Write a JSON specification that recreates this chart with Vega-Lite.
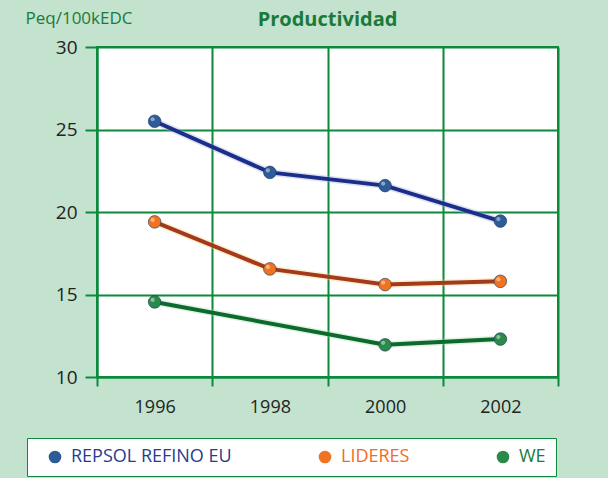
{
  "$schema": "https://vega.github.io/schema/vega-lite/v6.json",
  "width": 461,
  "height": 330,
  "autosize": {"type": "none"},
  "padding": {"left": 97, "top": 47, "right": 50, "bottom": 101},
  "background": "#c3e3cf",
  "config": {
    "font": "Open Sans",
    "view": {"fill": "white", "stroke": "#0b8a3c", "strokeWidth": 2}
  },
  "title": {
    "text": "Productividad",
    "fontSize": 20,
    "fontWeight": "bold",
    "color": "#1a7a3a",
    "anchor": "middle",
    "offset": 0,
    "dy": 21
  },
  "data": {
    "values": [
      {"year": "1996", "series": "REPSOL REFINO EU", "value": 25.5},
      {"year": "1998", "series": "REPSOL REFINO EU", "value": 22.4},
      {"year": "2000", "series": "REPSOL REFINO EU", "value": 21.6},
      {"year": "2002", "series": "REPSOL REFINO EU", "value": 19.45},
      {"year": "1996", "series": "LIDERES", "value": 19.4},
      {"year": "1998", "series": "LIDERES", "value": 16.55},
      {"year": "2000", "series": "LIDERES", "value": 15.6},
      {"year": "2002", "series": "LIDERES", "value": 15.8},
      {"year": "1996", "series": "WE", "value": 14.55},
      {"year": "2000", "series": "WE", "value": 11.95},
      {"year": "2002", "series": "WE", "value": 12.3}
    ]
  },
  "encoding": {
    "x": {
      "field": "year",
      "type": "ordinal",
      "scale": {"paddingInner": 0, "paddingOuter": 0},
      "axis": {
        "title": null,
        "labelAngle": 0,
        "tickBand": "extent",
        "grid": true,
        "gridColor": "#0b8a3c",
        "gridWidth": 2,
        "gridOpacity": 1,
        "domainColor": "#0b8a3c",
        "domainWidth": 2,
        "tickColor": "#0b8a3c",
        "tickWidth": 2,
        "tickSize": 9,
        "labelFontSize": 18,
        "labelColor": "#222222",
        "labelPadding": 12
      }
    },
    "y": {
      "field": "value",
      "type": "quantitative",
      "scale": {"domain": [10, 30], "nice": false, "zero": false},
      "axis": {
        "values": [10, 15, 20, 25, 30],
        "title": "Peq/100kEDC",
        "titleAngle": 0,
        "titleX": -72,
        "titleY": -29,
        "titleAlign": "left",
        "titleBaseline": "middle",
        "titleFontSize": 17,
        "titleFontWeight": "normal",
        "titleColor": "#1a7a3a",
        "grid": true,
        "gridColor": "#0b8a3c",
        "gridWidth": 2,
        "gridOpacity": 1,
        "domainColor": "#0b8a3c",
        "domainWidth": 2,
        "tickColor": "#0b8a3c",
        "tickWidth": 2,
        "tickSize": 12,
        "labelFontSize": 19,
        "labelColor": "#222222",
        "labelPadding": 8
      }
    }
  },
  "layer": [
    {
      "mark": {"type": "line", "strokeWidth": 7, "opacity": 0.35},
      "encoding": {
        "stroke": {
          "field": "series",
          "type": "nominal",
          "scale": {
            "domain": ["LIDERES", "REPSOL REFINO EU", "WE"],
            "range": ["#f7d27a", "#9fa8d8", "#a8d8b8"]
          },
          "legend": null
        }
      }
    },
    {
      "mark": {"type": "line", "strokeWidth": 4},
      "encoding": {
        "color": {
          "field": "series",
          "type": "nominal",
          "scale": {
            "domain": ["WE", "LIDERES", "REPSOL REFINO EU"],
            "range": ["#0b6a2c", "#a33a1c", "#1b2f8a"]
          },
          "legend": null
        }
      }
    },
    {
      "mark": {"type": "point", "filled": true, "opacity": 1, "size": 160, "shape": "circle", "stroke": "#1c3558", "strokeWidth": 0.6},
      "encoding": {
        "fill": {
          "field": "series",
          "type": "nominal",
          "scale": {
            "domain": ["REPSOL REFINO EU", "LIDERES", "WE"],
            "range": ["#2e5c99", "#f07322", "#2a8a4a"]
          },
          "legend": {
            "title": null,
            "orient": "none",
            "direction": "horizontal",
            "legendX": -70,
            "legendY": 391,
            "fillColor": "white",
            "strokeColor": "#0b8a3c",
            "padding": 10,
            "symbolOffset": 9,
            "symbolSize": 160,
            "symbolStrokeWidth": 0,
            "labelFontSize": 18,
            "labelOffset": 7,
            "columnPadding": 75,
            "labelLimit": 300,
            "labelColor": {"expr": "datum.value === 'LIDERES' ? '#f26a2a' : datum.value === 'WE' ? '#1a7a3a' : '#283c8f'"}
          }
        }
      }
    },
    {
      "mark": {"type": "point", "filled": true, "color": "white", "opacity": 0.45, "size": 18, "xOffset": -2, "yOffset": -2}
    }
  ]
}
